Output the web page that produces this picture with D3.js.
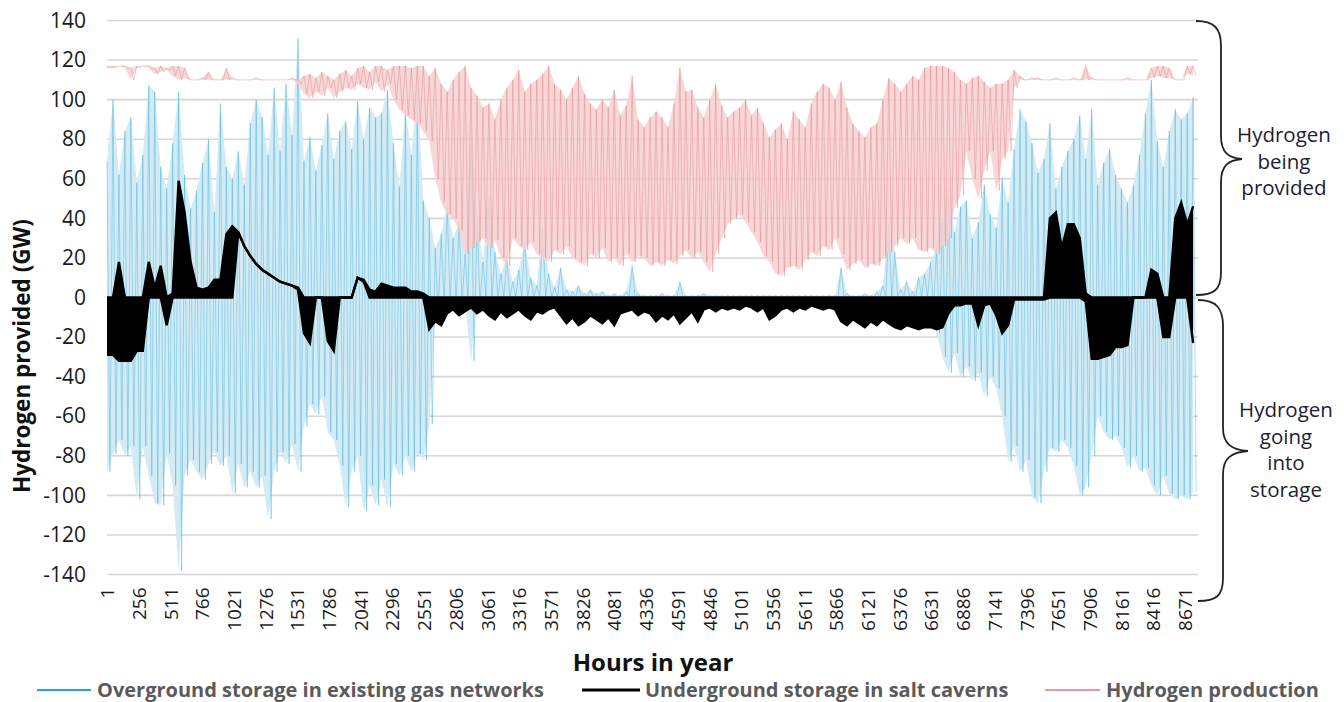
<!DOCTYPE html>
<html>
<head>
<meta charset="utf-8">
<script src="https://cdn.jsdelivr.net/npm/d3@7/dist/d3.min.js"></script>
<style>
  body { margin: 0; background: #fff; }
  svg text { font-family: "Open Sans", "Noto Sans", sans-serif; }
</style>
</head>
<body>
<div id="chart"></div>
<script>
// values, one max / min pair per 48-hour block (block i starts at hour 1 + 48*i)
var blockHours = 48;

var overgroundHigh = [
  69,100,62,84,91,58,72,107,104,66,
  55,78,104,62,45,54,68,80,43,98,
  66,60,74,57,88,100,91,72,106,74,
  108,82,131,69,81,64,77,93,70,84,
  89,75,99,80,96,91,93,105,78,56,
  95,72,106,49,40,25,32,47,30,38,
  22,78,40,18,51,23,12,20,8,14,
  29,10,6,36,12,5,15,4,3,6,
  2,4,2,3,1,2,1,3,16,2,
  1,1,1,2,1,1,8,1,1,1,
  2,1,1,1,1,1,1,1,1,1,
  1,1,1,1,1,1,1,1,1,1,
  1,1,1,15,2,1,1,2,1,3,
  6,37,23,4,8,3,10,12,18,25,
  40,54,33,46,49,30,38,57,42,35,
  60,48,75,95,89,78,63,70,88,55,
  66,74,80,92,70,95,57,68,75,62,
  55,48,57,72,93,110,79,66,84,95,
  90,93,101
];
var overgroundLow = [
  -88,-79,-72,-80,-75,-102,-75,-90,-104,-105,
  -79,-95,-138,-90,-82,-88,-92,-84,-78,-85,
  -80,-99,-84,-96,-88,-96,-90,-112,-88,-78,
  -84,-74,-88,-65,-54,-59,-50,-68,-72,-85,
  -106,-88,-80,-108,-95,-105,-92,-106,-84,-90,
  -80,-88,-79,-82,-64,-8,-3,-2,-2,-3,
  -2,-32,-3,0,0,0,0,0,0,0,
  0,0,0,0,0,0,0,0,0,0,
  0,0,0,0,0,0,0,0,0,0,
  0,0,0,0,0,0,0,0,0,0,
  0,0,0,0,0,0,0,0,0,0,
  0,0,0,0,0,0,0,0,0,0,
  0,0,0,0,0,0,0,0,0,0,
  0,0,0,0,0,0,0,0,-5,-18,
  -30,-38,-28,-40,-35,-42,-38,-50,-40,-46,
  -60,-83,-75,-88,-82,-101,-104,-88,-76,-78,
  -72,-76,-85,-100,-96,-80,-60,-68,-72,-70,
  -76,-86,-80,-88,-86,-95,-100,-90,-99,-102,
  -100,-102,-98
];

var cavernHigh = [
  0,0,18,0,0,0,0,18,5,16,
  0,2,59,43,18,5,4,5,9,9,
  32,36,33,26,21,17,14,12,10,8,
  7,6,5,0,0,0,0,0,0,0,
  0,0,10,9,4,3,7,6,5,5,
  5,3,3,2,0,0,0,0,0,0,
  0,0,0,0,0,0,0,0,0,0,
  0,0,0,0,0,0,0,0,0,0,
  0,0,0,0,0,0,0,0,0,0,
  0,0,0,0,0,0,0,0,0,0,
  0,0,0,0,0,0,0,0,0,0,
  0,0,0,0,0,0,0,0,0,0,
  0,0,0,0,0,0,0,0,0,0,
  0,0,0,0,0,0,0,0,0,0,
  0,0,0,0,0,0,0,0,0,0,
  0,0,0,0,0,0,0,0,40,43,
  25,37,37,30,2,0,0,0,0,0,
  0,0,0,0,0,14,12,0,0,40,
  48,37,46
];
var cavernLow = [
  -29,-29,-32,-32,-32,-27,-27,0,0,0,
  -14,0,0,0,0,0,0,0,0,0,
  0,0,33,26,21,17,14,12,10,8,
  7,6,4,-18,-23,0,0,-22,-27,0,
  0,0,10,8,0,0,0,0,0,0,
  0,0,0,0,-16,-12,-14,-8,-6,-9,
  -7,-5,-8,-6,-9,-11,-7,-10,-8,-6,
  -9,-11,-7,-8,-6,-5,-9,-13,-10,-14,
  -12,-9,-11,-13,-10,-14,-8,-7,-6,-9,
  -7,-8,-12,-9,-11,-8,-13,-10,-7,-12,
  -6,-5,-7,-5,-6,-5,-6,-4,-5,-7,
  -5,-11,-9,-6,-5,-7,-5,-6,-4,-5,
  -6,-5,-6,-12,-14,-11,-13,-15,-12,-14,
  -11,-13,-15,-16,-14,-15,-16,-15,-15,-16,
  -15,-8,-4,-4,-3,-3,-14,-4,-3,-9,
  -18,-14,-1,-1,-1,-1,-1,-1,0,0,
  0,0,0,0,-2,-31,-31,-30,-29,-25,
  -25,-24,0,0,0,0,0,-20,-20,0,
  0,0,-23
];

var productionHigh = [
  117,117,117,117,116,117,117,117,116,117,
  116,117,117,116,110,110,111,114,110,110,
  116,111,110,110,110,111,110,110,110,110,
  110,111,110,112,113,111,114,112,110,113,
  115,112,116,117,114,117,117,115,117,117,
  117,116,117,117,112,116,108,104,110,114,
  117,106,102,96,98,90,100,106,110,115,
  104,108,110,113,117,108,105,100,106,112,
  103,98,95,100,96,105,92,97,112,90,
  86,91,94,91,86,98,116,104,105,96,
  91,100,108,97,91,94,96,100,92,96,
  88,81,85,88,80,94,90,86,98,104,
  108,106,100,109,96,88,84,81,86,88,
  100,111,108,104,108,112,110,116,117,117,
  117,116,114,110,108,111,112,109,106,108,
  108,110,115,112,110,111,111,110,110,111,
  110,110,111,110,117,111,110,110,110,110,
  110,111,110,110,110,116,117,117,116,110,
  110,117,117
];
var productionLow = [
  116,116,117,116,110,116,117,116,113,114,
  115,112,110,111,110,110,110,110,110,110,
  110,110,110,110,110,110,110,110,110,110,
  110,110,108,103,101,104,102,106,101,104,
  106,105,108,106,105,109,104,108,100,95,
  92,90,88,84,79,60,48,42,40,34,
  22,25,28,30,25,29,20,16,30,26,
  24,28,22,20,18,24,22,26,20,18,
  16,22,20,25,18,20,16,22,18,21,
  20,16,18,16,19,17,21,24,20,23,
  18,13,22,30,37,40,42,38,33,28,
  21,18,12,11,15,16,14,19,23,21,
  26,24,30,22,14,17,19,15,17,16,
  20,23,26,30,27,30,24,23,25,22,
  26,30,45,52,74,60,50,64,74,54,
  70,74,106,110,110,110,110,110,110,110,
  110,110,110,110,110,110,110,110,110,110,
  110,110,110,110,110,111,112,111,111,110,
  110,113,112
];

var hourTicks = [1,256,511,766,1021,1276,1531,1786,2041,2296,2551,2806,3061,3316,3571,
  3826,4081,4336,4591,4846,5101,5356,5611,5866,6121,6376,6631,6886,7141,7396,7651,7906,8161,8416,8671];
var gwTicks = [-140,-120,-100,-80,-60,-40,-20,0,20,40,60,80,100,120,140];

var seriesNames = ["Overground storage in existing gas networks", "Underground storage in salt caverns", "Hydrogen production"];

makePlot();

function makePlot() {
    var svgWidth = 1344;
    var svgHeight = 702;

    var svg = d3.select("#chart")
        .append("svg")
        .attr("width", svgWidth)
        .attr("height", svgHeight);

    var xScale = d3.scaleLinear()
        .domain([1, 8760])
        .range([107, 1196]);

    var yScale = d3.scaleLinear()
        .domain([-140, 140])
        .range([574.5, 20.5]);

    // turn max/min pairs into blocks
    function toBlocks(hi, lo) {
        return hi.map(function(v, i) {
            return { hour: 1 + i * blockHours, hi: v, lo: lo[i] };
        });
    }
    // the hourly line swings from block max to block min
    function zigzag(blocks) {
        var pts = [];
        blocks.forEach(function(b) {
            pts.push([b.hour, b.hi]);
            pts.push([b.hour + blockHours / 2, b.lo]);
        });
        return pts;
    }

    var overground = toBlocks(overgroundHigh, overgroundLow);
    var caverns = toBlocks(cavernHigh, cavernLow);
    var production = toBlocks(productionHigh, productionLow);

    // gridlines
    svg.append("g")
        .selectAll("line")
        .data(gwTicks)
        .enter()
        .append("line")
        .attr("x1", xScale(1))
        .attr("x2", xScale(8760) + 2)
        .attr("y1", d => yScale(d))
        .attr("y2", d => yScale(d))
        .attr("stroke", "#d6d6d6")
        .attr("stroke-width", 1.6);

    var band = d3.area()
        .x(d => xScale(d.hour))
        .y0(d => yScale(d.lo))
        .y1(d => yScale(d.hi));

    var swing = d3.line()
        .x(d => xScale(d[0]))
        .y(d => yScale(d[1]));

    // overground storage
    svg.append("path")
        .datum(overground)
        .attr("d", band)
        .attr("fill", "#d3ebf4");
    svg.append("path")
        .datum(zigzag(overground))
        .attr("d", swing)
        .attr("fill", "none")
        .attr("stroke", "#3aaed8")
        .attr("stroke-width", 0.7)
        .attr("stroke-opacity", 0.6);

    // hydrogen production
    svg.append("path")
        .datum(production)
        .attr("d", band)
        .attr("fill", "#f6d0d1")
        .attr("fill-opacity", 0.85);
    svg.append("path")
        .datum(zigzag(production))
        .attr("d", swing)
        .attr("fill", "none")
        .attr("stroke", "#e0767b")
        .attr("stroke-width", 0.7)
        .attr("stroke-opacity", 0.55);

    // salt caverns
    svg.append("path")
        .datum(caverns)
        .attr("d", band)
        .attr("fill", "#000");
    ["hi", "lo"].forEach(function(k) {
        svg.append("path")
            .datum(caverns)
            .attr("d", d3.line().x(d => xScale(d.hour)).y(d => yScale(d[k])))
            .attr("fill", "none")
            .attr("stroke", "#000")
            .attr("stroke-width", 2.4);
    });

    // axes
    var leftAxis = d3.axisLeft(yScale)
        .tickValues(gwTicks)
        .tickFormat(d => String(d))
        .tickSize(0)
        .tickPadding(21);
    var yAxis = svg.append("g")
        .attr("transform", `translate(${xScale(1)}, 0)`)
        .call(leftAxis);
    yAxis.select(".domain").remove();
    yAxis.selectAll("text")
        .attr("font-size", 21)
        .attr("font-family", "Open Sans")
        .attr("fill", "#1a1a1a");

    var bottomAxis = d3.axisBottom(xScale)
        .tickValues(hourTicks)
        .tickFormat(d => String(d))
        .tickSize(0);
    var xAxis = svg.append("g")
        .attr("transform", `translate(0, ${yScale(-140)})`)
        .call(bottomAxis);
    xAxis.select(".domain").remove();
    xAxis.selectAll("text")
        .attr("transform", "rotate(-90)")
        .attr("text-anchor", "end")
        .attr("x", -13)
        .attr("y", 0)
        .attr("dy", "0.35em")
        .attr("font-size", 19)
        .attr("font-family", "Open Sans")
        .attr("fill", "#1a1a1a");

    // axis titles
    svg.append("text")
        .attr("transform", "translate(30, 356) rotate(-90)")
        .attr("text-anchor", "middle")
        .attr("font-size", 22.5)
        .attr("font-weight", "bold")
        .attr("fill", "#111")
        .text("Hydrogen provided (GW)");

    svg.append("text")
        .attr("x", 653)
        .attr("y", 671)
        .attr("text-anchor", "middle")
        .attr("font-size", 24)
        .attr("font-weight", "bold")
        .attr("fill", "#111")
        .text("Hours in year");

    // braces on the right
    var braces = svg.append("g")
        .attr("fill", "none")
        .attr("stroke", "#222")
        .attr("stroke-width", 1.8);
    braces.append("path")
        .attr("d", "M1196,21 C1214,21 1221,28 1221,46 L1221,136 C1221,152 1228,158 1242,159 C1228,160 1221,166 1221,182 L1221,272 C1221,290 1214,295 1196,295");
    braces.append("path")
        .attr("d", "M1198,300 C1216,300 1223,308 1223,326 L1223,428 C1223,444 1232,450 1248,451 C1232,452 1223,458 1223,474 L1223,578 C1223,596 1216,601 1198,601");

    var notes = [
        { x: 1284, y: 142, lines: ["Hydrogen", "being", "provided"] },
        { x: 1286, y: 417, lines: ["Hydrogen", "going", "into", "storage"] }
    ];
    notes.forEach(function(n) {
        var t = svg.append("text")
            .attr("text-anchor", "middle")
            .attr("font-size", 20.5)
            .attr("fill", "#1c1c33");
        n.lines.forEach(function(s, i) {
            t.append("tspan")
                .attr("x", n.x)
                .attr("y", n.y + i * 26.5)
                .text(s);
        });
    });

    // legend
    var legendItems = [
        { x1: 37, x2: 91, tx: 97, color: "#1ea7d6", width: 2 },
        { x1: 582, x2: 640, tx: 645, color: "#000", width: 3 },
        { x1: 1045, x2: 1100, tx: 1106, color: "#e8989b", width: 2 }
    ];
    legendItems.forEach(function(d, i) {
        svg.append("line")
            .attr("x1", d.x1).attr("x2", d.x2)
            .attr("y1", 690).attr("y2", 690)
            .attr("stroke", d.color)
            .attr("stroke-width", d.width);
        svg.append("text")
            .attr("x", d.tx)
            .attr("y", 697)
            .attr("font-size", 20)
            .attr("font-weight", "bold")
            .attr("fill", "#5a5a5a")
            .text(seriesNames[i]);
    });
}
</script>
</body>
</html>
